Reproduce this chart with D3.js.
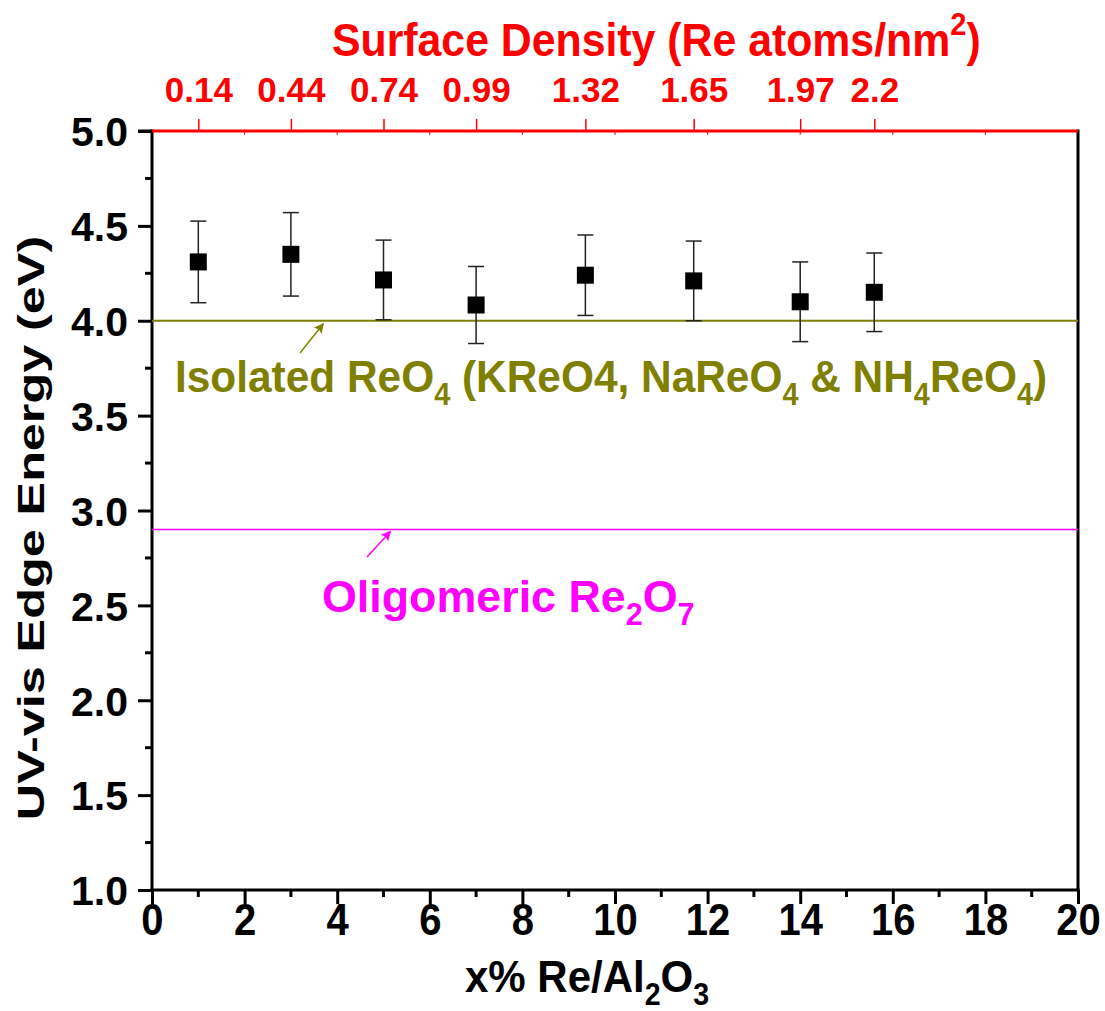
<!DOCTYPE html>
<html>
<head>
<meta charset="utf-8">
<script src="https://cdn.jsdelivr.net/npm/d3@7"></script>
<style>
  body { margin: 0; background: #fff; }
  svg { display: block; font-family: "Liberation Sans", Arial, sans-serif; font-weight: bold; }
</style>
</head>
<body>
<div id="svg-container"></div>
<script>
// data
const xPct = [1, 3, 5, 7, 9.36, 11.7, 14, 15.6];
const edgeEnergy = [4.31, 4.35, 4.215, 4.083, 4.24, 4.21, 4.1, 4.15];
const edgeErr = [0.215, 0.22, 0.21, 0.203, 0.212, 0.21, 0.21, 0.207];
const surfDensity = ["0.14", "0.44", "0.74", "0.99", "1.32", "1.65", "1.97", "2.2"];
const isolatedLevel = 4.0;
const oligomericLevel = 2.9;
const xTicks = [0, 2, 4, 6, 8, 10, 12, 14, 16, 18, 20];
const yTicks = [1.0, 1.5, 2.0, 2.5, 3.0, 3.5, 4.0, 4.5, 5.0];

const data = xPct.map((x, i) => ({ x: x, y: edgeEnergy[i], err: edgeErr[i], dens: surfDensity[i] }));

////////////////////////////  Init  ///////////////////////////////
const width = 1105;
const height = 1011;
const margin = { top: 131, right: 27, bottom: 121, left: 152 };

const svg = d3.select("#svg-container").append("svg")
  .attr("width", width)
  .attr("height", height);

const xScale = d3.scaleLinear().domain([0, 20]).range([margin.left, width - margin.right]);
const yScale = d3.scaleLinear().domain([1, 5]).range([height - margin.bottom, margin.top]);

// rich text helper: parts of [text, sub/sup flag], drawn at (x,y) with a vertical stretch
function richText(parent, parts, size, x, y, sy) {
  const t = parent.append("text")
    .attr("transform", `translate(${x},${y}) scale(1,${sy})`);
  let shift = 0;
  parts.forEach(([s, mode]) => {
    const target = mode === "sub" ? size * 0.28 : mode === "sup" ? -size * 0.45 : 0;
    t.append("tspan")
      .attr("dy", target - shift)
      .attr("font-size", mode ? size * 0.68 : size)
      .text(s);
    shift = target;
  });
  return t;
}

////////////////////////////  Axes  ///////////////////////////////
// bottom axis
const xAxis = d3.axisBottom(xScale).tickValues(xTicks).tickSize(14).tickFormat(d3.format("d"));
const gx = svg.append("g")
  .attr("class", "x-axis")
  .attr("transform", `translate(0,${yScale(1)})`)
  .call(xAxis);
gx.select(".domain").remove();
gx.selectAll("line").attr("stroke", "#000").attr("stroke-width", 3);
gx.selectAll("text")
  .attr("font-size", 40)
  .attr("fill", "#000")
  .attr("y", 0)
  .attr("dy", 0)
  .attr("transform", "translate(0,45) scale(1,1.12)");

// minor x ticks
svg.append("g").selectAll("line")
  .data(d3.range(1, 20, 2))
  .join("line")
  .attr("x1", (d) => xScale(d)).attr("x2", (d) => xScale(d))
  .attr("y1", yScale(1)).attr("y2", yScale(1) + 7)
  .attr("stroke", "#000").attr("stroke-width", 3);

// left axis
const yAxis = d3.axisLeft(yScale).tickValues(yTicks).tickSize(14).tickFormat(d3.format(".1f"));
const gy = svg.append("g")
  .attr("class", "y-axis")
  .attr("transform", `translate(${xScale(0)},0)`)
  .call(yAxis);
gy.select(".domain").remove();
gy.selectAll("line").attr("stroke", "#000").attr("stroke-width", 3);
gy.selectAll("text")
  .attr("font-size", 41)
  .attr("fill", "#000")
  .attr("x", -24)
  .attr("dy", "0.36em");

// minor y ticks
svg.append("g").selectAll("line")
  .data(d3.range(1.25, 5, 0.5))
  .join("line")
  .attr("x1", xScale(0)).attr("x2", xScale(0) - 7)
  .attr("y1", (d) => yScale(d)).attr("y2", (d) => yScale(d))
  .attr("stroke", "#000").attr("stroke-width", 3);

// frame lines
svg.append("line")
  .attr("x1", xScale(0)).attr("x2", xScale(20))
  .attr("y1", yScale(1)).attr("y2", yScale(1))
  .attr("stroke", "#000").attr("stroke-width", 3).attr("stroke-linecap", "square");
svg.append("line")
  .attr("x1", xScale(0)).attr("x2", xScale(0))
  .attr("y1", yScale(5)).attr("y2", yScale(1))
  .attr("stroke", "#000").attr("stroke-width", 3).attr("stroke-linecap", "square");
svg.append("line")
  .attr("x1", xScale(20)).attr("x2", xScale(20))
  .attr("y1", yScale(5)).attr("y2", yScale(1))
  .attr("stroke", "#000").attr("stroke-width", 3).attr("stroke-linecap", "square");

// top axis (surface density), red
const topAxis = d3.axisTop(xScale)
  .tickValues(xPct)
  .tickSize(12)
  .tickFormat((d, i) => surfDensity[i]);
const gt = svg.append("g")
  .attr("class", "top-axis")
  .attr("transform", `translate(0,${yScale(5)})`)
  .call(topAxis);
gt.select(".domain").remove();
gt.selectAll("line").attr("stroke", "#ff0000").attr("stroke-width", 1.5);
gt.selectAll("text")
  .attr("font-size", 35)
  .attr("fill", "#ff0000")
  .attr("y", -29)
  .attr("dy", 0);

// small inner ticks on the top axis
svg.append("g").selectAll("line")
  .data(d3.range(2, 20, 2))
  .join("line")
  .attr("x1", (d) => xScale(d)).attr("x2", (d) => xScale(d))
  .attr("y1", yScale(5)).attr("y2", yScale(5) + 4)
  .attr("stroke", "#ff0000").attr("stroke-width", 1);

svg.append("line")
  .attr("x1", xScale(0)).attr("x2", xScale(20))
  .attr("y1", yScale(5)).attr("y2", yScale(5))
  .attr("stroke", "#ff0000").attr("stroke-width", 3);

// black stub of the 5.0 tick over the red line start
svg.append("line")
  .attr("x1", xScale(0) - 14).attr("x2", xScale(0))
  .attr("y1", yScale(5)).attr("y2", yScale(5))
  .attr("stroke", "#000").attr("stroke-width", 3);

////////////////////////////  Reference lines  ///////////////////
svg.append("line")
  .attr("x1", xScale(0)).attr("x2", xScale(20))
  .attr("y1", yScale(isolatedLevel)).attr("y2", yScale(isolatedLevel))
  .attr("stroke", "#808000").attr("stroke-width", 2);

svg.append("line")
  .attr("x1", xScale(0)).attr("x2", xScale(20))
  .attr("y1", yScale(oligomericLevel)).attr("y2", yScale(oligomericLevel))
  .attr("stroke", "#ff00ff").attr("stroke-width", 1.5);

// arrows
const defs = svg.append("defs");
[["olive", "#808000"], ["mag", "#ff00ff"]].forEach(([id, c]) => {
  defs.append("marker")
    .attr("id", "arrow-" + id)
    .attr("viewBox", "0 0 10 10")
    .attr("refX", 9).attr("refY", 5)
    .attr("markerWidth", 12).attr("markerHeight", 10)
    .attr("markerUnits", "userSpaceOnUse")
    .attr("orient", "auto")
    .append("path")
    .attr("d", "M0,0 L10,5 L0,10 L2,5 z")
    .attr("fill", c);
});

svg.append("line")
  .attr("x1", 300).attr("y1", 353)
  .attr("x2", xScale(3.7)).attr("y2", yScale(isolatedLevel) + 3)
  .attr("stroke", "#808000").attr("stroke-width", 1.5)
  .attr("marker-end", "url(#arrow-olive)");

svg.append("line")
  .attr("x1", 367).attr("y1", 557)
  .attr("x2", xScale(5.15)).attr("y2", yScale(oligomericLevel) + 2)
  .attr("stroke", "#ff00ff").attr("stroke-width", 1.5)
  .attr("marker-end", "url(#arrow-mag)");

// annotations
richText(svg, [["Isolated ReO"], ["4", "sub"], [" (KReO4, NaReO"], ["4", "sub"], [" & NH"], ["4", "sub"], ["ReO"], ["4", "sub"], [")"]], 42.4, 175, 392, 1.06)
  .attr("fill", "#808000");

richText(svg, [["Oligomeric Re"], ["2", "sub"], ["O"], ["7", "sub"]], 44.8, 322, 612, 1.0)
  .attr("fill", "#ff00ff");

////////////////////////////  Error bars + markers  ///////////////
const eb = svg.append("g").attr("class", "errorbars");
eb.selectAll(".stem")
  .data(data)
  .join("line")
  .attr("x1", (d) => xScale(d.x)).attr("x2", (d) => xScale(d.x))
  .attr("y1", (d) => yScale(d.y + d.err)).attr("y2", (d) => yScale(d.y - d.err))
  .attr("stroke", "#222").attr("stroke-width", 1.5);
eb.selectAll(".capTop")
  .data(data)
  .join("line")
  .attr("x1", (d) => xScale(d.x) - 8).attr("x2", (d) => xScale(d.x) + 8)
  .attr("y1", (d) => yScale(d.y + d.err)).attr("y2", (d) => yScale(d.y + d.err))
  .attr("stroke", "#222").attr("stroke-width", 1.5);
eb.selectAll(".capBot")
  .data(data)
  .join("line")
  .attr("x1", (d) => xScale(d.x) - 8).attr("x2", (d) => xScale(d.x) + 8)
  .attr("y1", (d) => yScale(d.y - d.err)).attr("y2", (d) => yScale(d.y - d.err))
  .attr("stroke", "#222").attr("stroke-width", 1.5);

svg.append("g").selectAll("rect")
  .data(data)
  .join("rect")
  .attr("x", (d) => xScale(d.x) - 8.5)
  .attr("y", (d) => yScale(d.y) - 8.5)
  .attr("width", 17)
  .attr("height", 17)
  .attr("fill", "#000");

////////////////////////////  Titles  /////////////////////////////
richText(svg, [["Surface Density (Re atoms/nm"], ["2", "sup"], [")"]], 42.8, 332, 56, 1.08)
  .attr("fill", "#ff0000");

richText(svg, [["x% Re/Al"], ["2", "sub"], ["O"], ["3", "sub"]], 42, 465, 992, 1.07)
  .attr("fill", "#000");

svg.append("text")
  .attr("transform", `translate(44,528) rotate(-90) scale(1.36,1)`)
  .attr("text-anchor", "middle")
  .attr("font-size", 37)
  .attr("fill", "#000")
  .text("UV-vis Edge Energy (eV)");
</script>
</body>
</html>
